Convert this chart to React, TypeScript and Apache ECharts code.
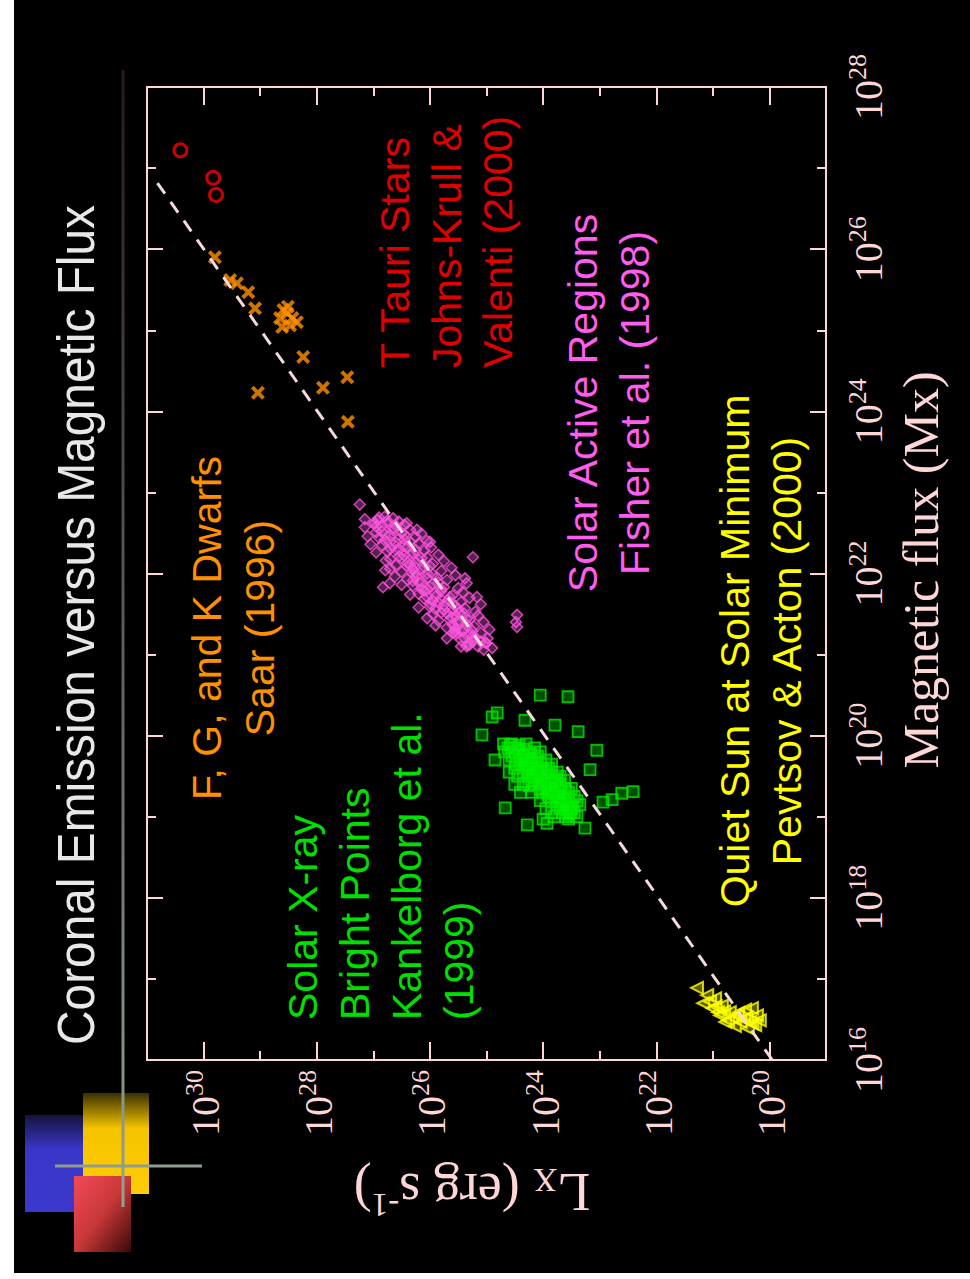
import React, { useEffect, useRef } from "react";
import * as echarts from "echarts";

// ---- axis ticks (log10 exponents) ----
const lxMajorExps = [20, 22, 24, 26, 28, 30];
const lxMinorExps = [19, 21, 23, 25, 27, 29, 31];
const fluxMajorExps = [16, 18, 20, 22, 24, 26, 28];
const fluxMinorExps = [17, 19, 21, 23, 25, 27];

// ---- data: log10 magnetic flux (Mx), log10 Lx (erg/s) ----
const ttauriFlux = [27.22, 26.88, 26.67];
const ttauriLx = [30.41, 29.83, 29.78];

const dwarfFlux = [25.9, 25.62, 25.58, 25.47, 25.27, 25.25, 25.21, 25.15, 25.04, 25.1, 25.29, 25.15, 25.06, 24.67, 24.23, 24.29, 24.42, 23.87];
const dwarfLx = [29.8, 29.53, 29.41, 29.21, 29.09, 28.59, 28.52, 28.43, 28.61, 28.35, 28.51, 28.65, 28.47, 28.24, 29.04, 27.89, 27.46, 27.45];

const activeFlux = [
  21.06, 21.08, 21.12, 21.15, 21.18, 21.2, 21.22, 21.25, 21.27, 21.3, 21.31, 21.33, 21.35, 21.38, 21.4, 21.42, 21.44, 21.46, 21.48, 21.5,
  21.52, 21.53, 21.55, 21.57, 21.59, 21.6, 21.62, 21.64, 21.65, 21.67, 21.69, 21.7, 21.72, 21.73, 21.75, 21.77, 21.78, 21.8, 21.82, 21.83,
  21.85, 21.87, 21.88, 21.9, 21.92, 21.93, 21.95, 21.97, 21.98, 22.0, 22.02, 22.03, 22.05, 22.07, 22.08, 22.1, 22.12, 22.13, 22.15, 22.17,
  22.18, 22.2, 22.22, 22.23, 22.25, 22.27, 22.28, 22.3, 22.32, 22.33, 22.35, 22.37, 22.38, 22.4, 22.42, 22.44, 22.45, 22.47, 22.49, 22.5,
  22.52, 22.54, 22.56, 22.58, 22.6, 22.62, 22.64, 22.66, 22.68, 22.7,
  21.1, 21.2, 21.28, 21.36, 21.45, 21.52, 21.58, 21.66, 21.74, 21.79, 21.86, 21.91, 21.96, 22.01, 22.06, 22.11, 22.16, 22.21, 22.26, 22.31,
  22.36, 22.41, 22.46, 22.51, 22.57, 22.62, 22.67,
  22.85, 22.2, 21.49, 21.4, 21.34, 21.83, 22.62, 21.88, 22.04, 22.39, 21.94, 21.71, 21.14, 21.12, 21.27, 22.54, 22.62,
  21.1, 21.1, 21.16, 21.16, 21.21, 21.21, 21.24, 21.29, 21.29, 21.32, 21.37, 21.37, 21.41, 21.43, 21.43, 21.47, 21.51, 21.51, 21.54,
  21.56, 21.56, 21.61, 21.63, 21.63, 21.68, 21.71, 21.71, 21.76, 21.81, 21.81, 21.84, 21.89, 21.89, 21.94, 21.99, 21.99, 22.04,
  22.09, 22.09, 22.14, 22.19, 22.19, 22.24, 22.29, 22.29, 22.34, 22.39, 22.39, 22.43, 22.48, 22.48, 22.53, 22.59, 22.59, 22.65, 22.69,
];
const activeLx = [
  25.05, 24.9, 25.3, 25.02, 25.45, 24.98, 25.25, 25.55, 25.1, 25.4, 24.95, 25.7, 25.22, 25.5, 25.05, 25.85, 25.35, 25.62, 25.15, 25.95,
  25.48, 25.2, 25.75, 25.38, 26.0, 25.55, 25.1, 25.85, 25.45, 25.68, 26.1, 25.3, 25.9, 25.6, 26.2, 25.42, 25.8, 26.05, 25.5, 25.75,
  26.3, 25.95, 25.35, 26.15, 25.7, 26.4, 25.88, 26.25, 25.55, 26.05, 26.5, 25.8, 26.3, 25.62, 26.1, 26.6, 25.95, 26.4, 25.75, 26.2,
  26.7, 26.05, 26.45, 25.85, 26.3, 26.75, 26.1, 26.55, 25.98, 26.4, 26.85, 26.2, 26.6, 26.05, 26.45, 26.9, 26.25, 26.7, 26.15, 26.5,
  26.85, 26.35, 26.65, 26.95, 26.45, 26.75, 26.55, 26.92, 26.65, 26.8,
  25.45, 25.7, 25.55, 25.9, 26.05, 25.8, 26.2, 25.95, 26.35, 26.1, 26.5, 26.3, 26.62, 26.25, 26.7, 26.35, 26.78, 26.55, 26.95, 26.7,
  27.05, 26.8, 27.1, 26.95, 27.15, 27.0, 27.15,
  27.24, 25.24, 24.46, 24.48, 24.46, 26.83, 26.97, 26.71, 26.79, 26.0, 25.38, 25.17, 25.0, 25.34, 25.59, 26.23, 26.41,
  25.15, 25.35, 25.25, 25.1, 25.4, 25.2, 25.3, 25.45, 25.25, 25.55, 25.35, 25.6, 25.5, 25.65, 25.3, 25.55, 25.7, 25.4, 25.6,
  25.9, 25.5, 25.75, 25.6, 26.0, 25.8, 25.65, 26.05, 25.9, 25.8, 26.15, 26.0, 25.85, 26.2, 26.05, 26.3, 25.95, 26.15,
  26.4, 26.0, 26.25, 26.5, 26.15, 26.35, 26.6, 26.25, 26.45, 26.7, 26.35, 26.55, 26.8, 26.45, 26.65, 26.85, 26.6, 26.75, 26.9,
];

const brightFlux = [
  20.01, 20.28, 20.5, 20.23, 20.48, 20.05, 19.82, 19.29, 19.31, 19.18, 19.11, 18.9, 18.92, 19.05, 19.21, 18.86, 19.7, 19.89, 20.19, 20.13, 19.58,
  19.9, 19.9, 19.9, 19.85, 19.85, 19.85, 19.8, 19.8, 19.8, 19.8, 19.75, 19.75, 19.75, 19.7, 19.7, 19.7, 19.7,
  19.65, 19.65, 19.65, 19.65, 19.6, 19.6, 19.6, 19.6, 19.55, 19.55, 19.55, 19.55, 19.5, 19.5, 19.5, 19.5, 19.5,
  19.45, 19.45, 19.45, 19.45, 19.4, 19.4, 19.4, 19.4, 19.35, 19.35, 19.35, 19.35, 19.3, 19.3, 19.3, 19.3,
  19.25, 19.25, 19.25, 19.2, 19.2, 19.2, 19.2, 19.15, 19.15, 19.15, 19.1, 19.1, 19.1, 19.05, 19.05, 19.05,
  19.0, 19.0, 19.0, 18.97, 18.97, 19.55, 19.4, 19.3,
  19.88, 19.83, 19.78, 19.72, 19.68, 19.63, 19.58, 19.53, 19.48, 19.43, 19.38, 19.33, 19.28, 19.23, 19.18, 19.13, 19.08, 19.03,
  19.62, 19.52, 19.42, 19.32, 19.22, 19.12, 19.47, 19.37, 19.57, 19.67, 19.77, 19.27,
];
const brightLx = [
  25.08, 24.81, 24.05, 24.9, 23.56, 23.38, 23.05, 22.61, 22.41, 22.94, 24.67, 24.28, 23.93, 23.52, 22.78, 23.26, 24.85, 24.58, 24.32, 23.79, 23.17,
  24.55, 24.3, 24.7, 24.45, 24.62, 24.15, 24.5, 24.25, 24.05, 24.68, 24.35, 24.55, 24.1, 24.4, 24.2, 24.6, 23.95,
  24.3, 24.05, 24.48, 23.85, 24.25, 24.1, 23.9, 24.5, 24.15, 23.95, 24.35, 23.75, 24.05, 23.85, 24.25, 24.45, 23.7,
  24.0, 23.8, 24.2, 23.62, 23.95, 23.7, 24.15, 24.35, 23.85, 23.6, 24.05, 23.5, 23.8, 23.55, 24.0, 24.2,
  23.7, 23.45, 23.9, 23.6, 23.85, 23.4, 24.05, 23.55, 23.75, 23.35, 23.5, 23.7, 23.95, 23.45, 23.65, 23.85,
  23.4, 23.6, 23.8, 23.55, 24.0, 24.6, 24.5, 24.4,
  24.42, 24.35, 24.42, 24.28, 24.12, 24.38, 24.02, 24.28, 24.12, 23.92, 24.25, 23.72, 23.92, 23.62, 23.7, 23.48, 23.6, 23.55,
  24.18, 23.95, 24.08, 23.95, 23.78, 23.62, 23.75, 23.82, 24.22, 24.35, 24.22, 23.68,
];

const quietFlux = [16.89, 16.8, 16.76, 16.7, 16.64, 16.67, 16.59, 16.55, 16.55, 16.62, 16.64, 16.55, 16.47, 16.47, 16.49, 16.49, 16.42, 16.39, 16.43, 16.47, 16.59, 16.72, 16.6, 16.52, 16.5, 16.58, 16.45, 16.66, 16.53];
const quietLx = [21.28, 21.1, 20.96, 21.17, 21.01, 20.84, 20.7, 20.87, 20.56, 20.43, 20.31, 20.22, 20.51, 20.34, 20.73, 20.17, 20.61, 20.38, 20.25, 20.78, 20.91, 21.05, 20.8, 20.65, 20.45, 20.55, 20.3, 20.95, 20.4];

const fitFlux = [16.0, 26.86];
const fitLx = [19.95, 30.86];

const SERIF = "'Liberation Serif', 'Times New Roman', serif";
const SANS = "'Liberation Sans', Arial, sans-serif";
const AXIS = "#ffd6d6";

const pairs = (lx: number[], fl: number[]) => lx.map((v, i) => [v, fl[i]]);

const supRich = {
  base: { fontSize: 40, fontFamily: SERIF, color: AXIS, lineHeight: 44, verticalAlign: "bottom" },
  exp: { fontSize: 26, fontFamily: SERIF, color: AXIS, lineHeight: 27, verticalAlign: "top" },
};
const supFmt = (v: number) => `{base|10}{exp|${Math.round(v)}}`;

function tickAxis(kind: "x" | "y", position: string, values: number[], length: number, labels: boolean) {
  const base: any = {
    type: "value",
    position,
    min: kind === "x" ? 19 : 16,
    max: kind === "x" ? 31 : 28,
    inverse: kind === "x",
    axisLine: { show: false },
    splitLine: { show: false },
    axisTick: { show: true, inside: true, length, customValues: values, lineStyle: { color: AXIS, width: 2 } },
    axisLabel: labels
      ? {
          show: true, rotate: 90, margin: kind === "x" ? 10 : 18, customValues: values,
          fontSize: 40, fontFamily: SERIF, color: AXIS, formatter: supFmt, rich: supRich,
        }
      : { show: false },
  };
  return base;
}

export default function App() {
  const ref = useRef<HTMLDivElement>(null);
  useEffect(() => {
    if (!ref.current) return;
    const chart = echarts.init(ref.current, undefined, { renderer: "svg" });
    const hollow = (c: string, w: number, fill = "rgba(0,0,0,0)") => ({ color: fill, borderColor: c, borderWidth: w });
    const annot = (text: string, x: number, y: number, color: string, align: string) => ({
      type: "text",
      x,
      y,
      rotation: Math.PI / 2,
      style: { text, fill: color, fontSize: 41, fontFamily: SANS, align, verticalAlign: "middle" },
    });
    chart.setOption({
      animation: false,
      backgroundColor: "#ffffff",
      grid: { left: 147, right: 144, top: 87, bottom: 219, show: true, borderColor: AXIS, borderWidth: 2, outerBoundsMode: "none" },
      xAxis: [
        tickAxis("x", "bottom", lxMajorExps, 18, true),
        tickAxis("x", "bottom", lxMinorExps, 9, false),
        tickAxis("x", "top", lxMajorExps, 18, false),
        tickAxis("x", "top", lxMinorExps, 9, false),
      ],
      yAxis: [
        tickAxis("y", "right", fluxMajorExps, 16, true),
        tickAxis("y", "right", fluxMinorExps, 9, false),
        tickAxis("y", "left", fluxMajorExps, 16, false),
        tickAxis("y", "left", fluxMinorExps, 9, false),
      ],
      graphic: [
        { type: "rect", z: -100, shape: { x: 14, y: 0, width: 956, height: 1273 }, style: { fill: "#000000" } },
        {
          type: "rect", z: -50, shape: { x: 25, y: 1115, width: 58, height: 97 },
          style: { fill: { type: "linear", x: 0, y: 0, x2: 0, y2: 1, colorStops: [{ offset: 0, color: "#14143e" }, { offset: 0.35, color: "#3a36c8" }, { offset: 1, color: "#3b38cc" }] } },
        },
        {
          type: "rect", z: -50, shape: { x: 83, y: 1093, width: 66, height: 101 },
          style: { fill: { type: "linear", x: 0, y: 0, x2: 0, y2: 1, colorStops: [{ offset: 0, color: "#3a3000" }, { offset: 0.35, color: "#f5c400" }, { offset: 1, color: "#ffcc00" }] } },
        },
        {
          type: "rect", z: -50, shape: { x: 74, y: 1176, width: 57, height: 76 },
          style: { fill: { type: "linear", x: 0, y: 0, x2: 1, y2: 1, colorStops: [{ offset: 0, color: "#f24a5a" }, { offset: 0.5, color: "#c83838" }, { offset: 1, color: "#3a0808" }] } },
        },
        {
          type: "line", z: -40, shape: { x1: 123, y1: 70, x2: 123, y2: 1207 },
          style: { lineWidth: 3, stroke: { type: "linear", global: true, x: 0, y: 70, x2: 0, y2: 1207, colorStops: [{ offset: 0, color: "#2a1a1a" }, { offset: 0.5, color: "#5a5e5a" }, { offset: 1, color: "#94a294" }] } },
        },
        { type: "line", z: -40, shape: { x1: 55, y1: 1166, x2: 202, y2: 1166 }, style: { lineWidth: 3, stroke: "#8f9c8f" } },
        {
          type: "text", x: 76, y: 625, rotation: Math.PI / 2, scaleX: 0.92,
          style: { text: "Coronal Emission versus Magnetic Flux", fill: "#e8e8e8", fontSize: 52, fontFamily: SANS, align: "center", verticalAlign: "middle" },
        },
        {
          type: "text", x: 921, y: 570, rotation: Math.PI / 2,
          style: { text: "Magnetic flux (Mx)", fill: AXIS, fontSize: 50, fontFamily: SERIF, align: "center", verticalAlign: "middle" },
        },
        {
          type: "text", x: 472, y: 1192, rotation: Math.PI,
          style: {
            text: "{n|L}{sub|X}{n| (erg s}{sup|-1}{n|)}",
            align: "center",
            verticalAlign: "middle",
            rich: {
              n: { fontSize: 54, fontFamily: SERIF, fill: AXIS, lineHeight: 58, verticalAlign: "middle" },
              sub: { fontSize: 33, fontFamily: SERIF, fill: AXIS, lineHeight: 33, verticalAlign: "bottom" },
              sup: { fontSize: 33, fontFamily: SERIF, fill: AXIS, lineHeight: 33, verticalAlign: "top" },
            },
          },
        },
        annot("T Tauri Stars", 395, 368, "#e00000", "left"),
        annot("Johns-Krull &", 447, 368, "#e00000", "left"),
        annot("Valenti (2000)", 498, 368, "#e00000", "left"),
        annot("Solar Active Regions", 583, 403, "#ff5cf0", "center"),
        annot("Fisher et al. (1998)", 635, 403, "#ff5cf0", "center"),
        annot("Quiet Sun at Solar Minimum", 735, 651, "#ffff00", "center"),
        annot("Pevtsov & Acton (2000)", 787, 651, "#ffff00", "center"),
        annot("F, G, and K Dwarfs", 207, 628, "#ff9000", "center"),
        annot("Saar (1996)", 260, 628, "#ff9000", "center"),
        annot("Solar X-ray", 303, 1020, "#00e000", "left"),
        annot("Bright Points", 355, 1020, "#00e000", "left"),
        annot("Kankelborg et al.", 407, 1020, "#00e000", "left"),
        annot("(1999)", 459, 1020, "#00e000", "left"),
      ],
      series: [
        {
          name: "Quiet Sun", type: "scatter", data: pairs(quietLx, quietFlux),
          symbol: "triangle", symbolSize: 12, symbolRotate: 90, itemStyle: hollow("#ffff00", 2, "rgba(255,255,0,0.45)"),
        },
        {
          name: "X-ray Bright Points", type: "scatter", data: pairs(brightLx, brightFlux),
          symbol: "rect", symbolSize: 11, itemStyle: hollow("#00e600", 1.8, "rgba(0,255,0,0.4)"),
        },
        {
          name: "Active Regions", type: "scatter", data: pairs(activeLx, activeFlux),
          symbol: "diamond", symbolSize: 11, itemStyle: hollow("#ff4fd8", 1.5, "rgba(255,110,245,0.4)"),
        },
        {
          name: "F, G, K Dwarfs", type: "scatter", data: pairs(dwarfLx, dwarfFlux),
          symbol: "path://M0,2 L2,0 L5,3 L8,0 L10,2 L7,5 L10,8 L8,10 L5,7 L2,10 L0,8 L3,5 Z",
          symbolSize: 14, itemStyle: { color: "#ff9000" },
        },
        {
          name: "T Tauri", type: "scatter", data: pairs(ttauriLx, ttauriFlux),
          symbol: "circle", symbolSize: 13, itemStyle: hollow("#ff0000", 3),
        },
        {
          name: "fit", type: "line", data: pairs(fitLx, fitFlux), symbol: "none", z: 10,
          lineStyle: { color: "#f4dada", width: 3, type: [13, 10] },
        },
      ],
    });
    return () => chart.dispose();
  }, []);
  return <div ref={ref} style={{ position: "absolute", left: 0, top: 0, width: 970, height: 1279 }} />;
}
